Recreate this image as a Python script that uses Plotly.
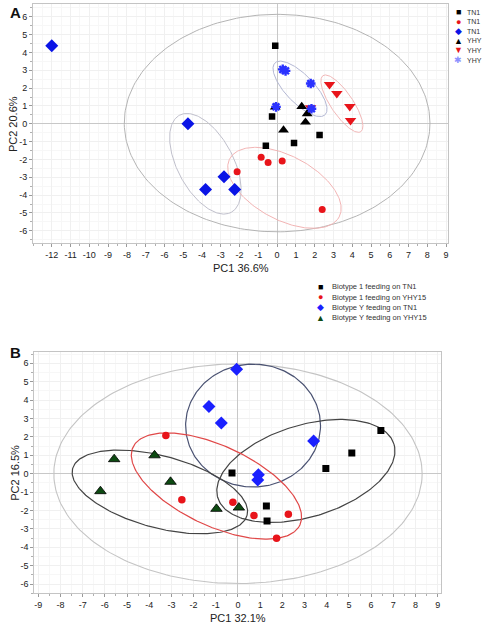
import numpy as np
import plotly.graph_objects as go

# ---------------- Panel A data ----------------
a_sq_x = [-0.1, -0.27, 2.26, 0.9, -0.6]
a_sq_y = [4.37, 0.41, -0.63, -1.08, -1.23]
a_ci_x = [-0.85, -0.48, 0.27, 2.4, -2.13]
a_ci_y = [-1.87, -2.17, -2.09, -4.8, -2.69]
a_di_x = [-12.0, -4.75, -3.81, -2.83, -2.26]
a_di_y = [4.38, 0.0, -3.68, -2.97, -3.68]
a_tu_x = [-0.1, 1.31, 1.6, 1.51, 0.34]
a_tu_y = [0.93, 0.97, 0.56, 0.09, -0.35]
a_td_x = [2.79, 3.18, 3.87, 3.91, 1.78]
a_td_y = [2.2, 1.7, 0.97, 0.19, 0.9]
a_st_x = [0.3, 0.45, 1.79, 1.83, -0.06]
a_st_y = [3.05, 2.97, 2.26, 0.84, 0.95]
a_legend_names = ["TN1", "TN1", "TN1", "YHY", "YHY", "YHY"]

# group ellipses A: centre x, centre y, semi-major, semi-minor, angle (deg)
a_ell_cx = [0.0, -3.82, 0.39, 1.22, 3.45]
a_ell_cy = [0.04, -2.24, -3.59, 1.96, 1.13]
a_ell_a = [8.14, 2.93, 3.3, 1.92, 1.8]
a_ell_b = [5.79, 1.49, 1.7, 0.75, 0.59]
a_ell_ang = [0, -62, -28, -46, -56]

# ---------------- Panel B data ----------------
b_sq_x = [-0.27, 1.28, 1.31, 3.96, 5.13, 6.44]
b_sq_y = [0.04, -1.75, -2.57, 0.28, 1.13, 2.35]
b_ci_x = [-3.25, -2.53, -0.23, 0.72, 2.27, 1.74]
b_ci_y = [2.08, -1.42, -1.55, -2.27, -2.2, -3.51]
b_di_x = [-0.06, -1.31, -0.75, 3.41, 0.92, 0.89]
b_di_y = [5.68, 3.65, 2.76, 1.78, -0.05, -0.34]
b_tr_x = [-5.58, -3.76, -6.2, -3.04, -0.97, 0.04]
b_tr_y = [0.79, 1.0, -0.95, -0.44, -1.91, -1.84]
b_legend_names = ["Biotype 1 feeding on TN1", "Biotype 1 feeding on YHY15",
                  "Biotype Y feeding on TN1", "Biotype Y feeding on YHY15"]

b_ell_cx = [0.0, 0.68, -3.52, 3.06, -0.97]
b_ell_cy = [0.0, 2.62, -0.99, 0.15, -0.67]
b_ell_a = [8.3, 3.04, 4.07, 4.15, 4.15]
b_ell_b = [4.95, 2.77, 1.62, 2.07, 1.8]
b_ell_ang = [0, 0, -15, 17, -25]

a_xticks = list(range(-12, 10))
a_yticks = list(range(-6, 7))
b_xticks = list(range(-9, 10))
b_yticks = list(range(-6, 7))

# ---------------- styling ----------------
W, H = 497, 631
FONT = "Liberation Sans, Arial, sans-serif"
K_A = 1.053   # display aspect (x-unit px / y-unit px) panel A
K_B = 1.206   # panel B
a_ell_col = ["#b4b4b4", "#c0c0cc", "#f2b4b4", "#b4b8d4", "#f2b8b8"]
b_ell_col = ["#c4c4c4", "#4a5272", "#444444", "#444444", "#e04848"]
a_ell_w = [1, 1, 1, 1, 1]
b_ell_w = [1.1, 1.2, 1.2, 1.2, 1.2]


def ellipse(cx, cy, a, b, ang, k):
    t = np.linspace(0, 2 * np.pi, 240)
    p = np.radians(ang)
    x = cx + a * np.cos(t) * np.cos(p) - b * np.sin(t) * np.sin(p)
    y = cy + (a * np.cos(t) * np.sin(p) + b * np.sin(t) * np.cos(p)) * k
    return x, y


fig = go.Figure()

for i in range(len(a_ell_cx)):
    ex, ey = ellipse(a_ell_cx[i], a_ell_cy[i], a_ell_a[i], a_ell_b[i], a_ell_ang[i], K_A)
    fig.add_trace(go.Scatter(x=ex, y=ey, mode="lines", xaxis="x", yaxis="y",
                             line=dict(color=a_ell_col[i], width=a_ell_w[i]),
                             hoverinfo="skip", showlegend=False))
for i in range(len(b_ell_cx)):
    ex, ey = ellipse(b_ell_cx[i], b_ell_cy[i], b_ell_a[i], b_ell_b[i], b_ell_ang[i], K_B)
    fig.add_trace(go.Scatter(x=ex, y=ey, mode="lines", xaxis="x2", yaxis="y2",
                             line=dict(color=b_ell_col[i], width=b_ell_w[i]),
                             hoverinfo="skip", showlegend=False))


def pts(x, y, ax, ay, sym, size, color, lc=None, lw=0):
    fig.add_trace(go.Scatter(x=x, y=y, mode="markers", xaxis=ax, yaxis=ay,
                             marker=dict(symbol=sym, size=size, color=color,
                                         line=dict(color=lc or color, width=lw)),
                             showlegend=False))


# Panel A markers
pts(a_sq_x, a_sq_y, "x", "y", "square", 6.5, "#000000")
pts(a_ci_x, a_ci_y, "x", "y", "circle", 7, "#e8141a")
pts(a_di_x, a_di_y, "x", "y", "diamond", 10, "#0a14e6")
pts(a_td_x, a_td_y, "x", "y", "triangle-down", 10, "#e8141a")
pts(a_tu_x, a_tu_y, "x", "y", "triangle-up", 9.5, "#000000")
pts(a_st_x, a_st_y, "x", "y", "asterisk-open", 8, "#2a32ff", "#2a32ff", 2.4)

# Panel B markers
pts(b_sq_x, b_sq_y, "x2", "y2", "square", 7, "#000000")
pts(b_ci_x, b_ci_y, "x2", "y2", "circle", 7.5, "#e8141a")
pts(b_di_x, b_di_y, "x2", "y2", "diamond", 10, "#1a20ff")
pts(b_tr_x, b_tr_y, "x2", "y2", "triangle-up", 10, "#0d4a12", "#000000", 0.8)


def axis(dom, rng, ticks, anchor):
    return dict(domain=dom, range=rng, anchor=anchor,
                tickvals=ticks, ticktext=[str(v) for v in ticks],
                ticks="outside", ticklen=3, tickcolor="#9a9a9a", tickwidth=1,
                tickfont=dict(family=FONT, size=9, color="#222222"),
                showline=True, linecolor="#c4c4c4", linewidth=1, mirror=True,
                showgrid=True, gridcolor="#f0f0f0", gridwidth=1,
                zeroline=True, zerolinecolor="#c8c8c8", zerolinewidth=1,
                minor=dict(dtick=0.5, tick0=0, ticks="outside", ticklen=2,
                           tickcolor="#b0b0b0", showgrid=True, gridcolor="#f7f7f7"),
                fixedrange=True)


def px2x(px):
    return px / W


def py2y(py):
    return 1 - py / H


fig.update_layout(
    width=W, height=H, margin=dict(l=0, r=0, t=0, b=0),
    paper_bgcolor="white", plot_bgcolor="white", showlegend=False,
    font=dict(family=FONT, color="#222222"),
    xaxis=axis([px2x(33), px2x(448)], [-13.0, 9.1], a_xticks, "y"),
    yaxis=axis([py2y(243.3), py2y(4.3)], [-6.7, 6.7], a_yticks, "x"),
    xaxis2=axis([px2x(34.3), px2x(441)], [-9.18, 9.15], b_xticks, "y2"),
    yaxis2=axis([py2y(593.3), py2y(352.3)], [-6.5, 6.6], b_yticks, "x2"),
)

ann = []


def text(px, py, s, size, color="#222222", xanchor="center", bold=False, angle=0):
    ann.append(dict(x=px2x(px), y=py2y(py), xref="paper", yref="paper",
                    text=("<b>%s</b>" % s) if bold else s, showarrow=False,
                    xanchor=xanchor, yanchor="middle", textangle=angle, borderpad=0,
                    font=dict(family=FONT, size=size, color=color)))


# panel letters and axis titles
text(15, 13, "A", 15, "#111111", bold=True)
text(15, 352, "B", 15, "#111111", bold=True)
text(240.5, 268, "PC1 36.6%", 11)
text(13.3, 123.8, "PC2 20.6%", 11, angle=-90)
text(237.7, 618, "PC1 32.1%", 11)
text(15, 472.8, "PC2 16.5%", 11, angle=-90)

# legend A (manual, compact)
a_leg_sym = ["■", "●", "◆", "▲", "▼", "✱"]
a_leg_col = ["#000000", "#e8141a", "#0a14e6", "#000000", "#e8141a", "#8c90ff"]
a_leg_y = [12, 21.5, 31, 40.7, 50.5, 60.5]
for s, c, yy, nm in zip(a_leg_sym, a_leg_col, a_leg_y, a_legend_names):
    text(458, yy, s, 9, c)
    text(466, yy, nm, 7, "#333333", xanchor="left")

# legend B (manual, compact)
b_leg_sym = ["■", "●", "◆", "▲"]
b_leg_col = ["#000000", "#e8141a", "#1a20ff", "#0d4a12"]
b_leg_y = [286.7, 297.3, 307.3, 317.7]
for s, c, yy, nm in zip(b_leg_sym, b_leg_col, b_leg_y, b_legend_names):
    text(320.7, yy, s, 9, c)
    text(331, yy, nm, 7.5, "#333333", xanchor="left")

fig.update_layout(annotations=ann)
fig.write_html("out.html", config={"displayModeBar": False},
               post_script="document.body.style.margin='0px';document.body.style.overflow='hidden';")
